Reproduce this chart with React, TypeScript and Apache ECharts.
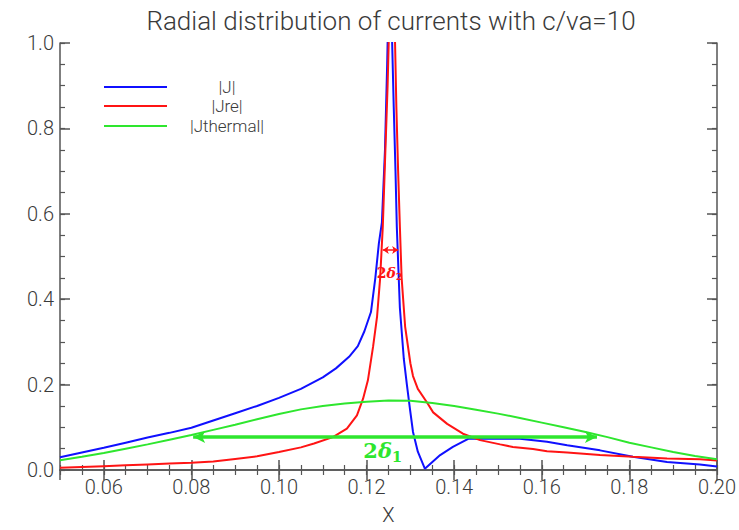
import React, { useEffect, useRef } from "react";
import * as echarts from "echarts";

// ---- data ----
const titleText = "Radial distribution of currents with c/va=10";
const seriesNames = ["|J|", "|Jre|", "|Jthermal|"];

const jX = [0.05, 0.055, 0.06, 0.065, 0.07, 0.075, 0.08, 0.085, 0.09, 0.095, 0.1, 0.105, 0.11, 0.113, 0.116, 0.118, 0.1195, 0.121, 0.122, 0.1228, 0.1235, 0.1242, 0.1247, 0.1251, 0.1256, 0.1262, 0.1266, 0.1269, 0.1276, 0.1285, 0.1292, 0.1299, 0.1306, 0.1317, 0.1333, 0.1368, 0.1397, 0.1432, 0.148, 0.155, 0.1612, 0.1658, 0.1733, 0.1808, 0.1886, 0.1961, 0.2];
const jY = [0.03, 0.041, 0.052, 0.064, 0.076, 0.087, 0.099, 0.116, 0.133, 0.15, 0.169, 0.19, 0.217, 0.238, 0.265, 0.29, 0.325, 0.37, 0.45, 0.53, 0.58, 0.75, 0.95, 1.15, 1.1, 0.85, 0.7, 0.57, 0.38, 0.26, 0.2, 0.143, 0.089, 0.043, 0.003, 0.035, 0.054, 0.073, 0.074, 0.073, 0.066, 0.058, 0.046, 0.031, 0.019, 0.013, 0.008];

const jreX = [0.05, 0.055, 0.06, 0.065, 0.07, 0.075, 0.08, 0.085, 0.09, 0.095, 0.1, 0.105, 0.108, 0.1123, 0.1155, 0.1178, 0.1192, 0.1203, 0.1215, 0.1224, 0.1231, 0.1237, 0.1242, 0.1248, 0.1253, 0.1258, 0.1263, 0.1268, 0.1272, 0.1276, 0.128, 0.1288, 0.13, 0.1306, 0.1317, 0.1338, 0.1352, 0.1384, 0.142, 0.1459, 0.1505, 0.1534, 0.158, 0.1612, 0.1658, 0.1733, 0.1808, 0.1886, 0.1961, 0.2];
const jreY = [0.005, 0.007, 0.009, 0.011, 0.013, 0.015, 0.017, 0.02, 0.026, 0.032, 0.042, 0.053, 0.062, 0.077, 0.097, 0.128, 0.167, 0.21, 0.29, 0.36, 0.45, 0.57, 0.72, 0.9, 1.1, 1.25, 1.1, 0.85, 0.7, 0.57, 0.45, 0.336, 0.25, 0.22, 0.19, 0.158, 0.135, 0.108, 0.085, 0.07, 0.06, 0.054, 0.049, 0.044, 0.041, 0.035, 0.031, 0.027, 0.025, 0.022];

const jthX = [0.05, 0.055, 0.06, 0.065, 0.07, 0.075, 0.08, 0.085, 0.09, 0.095, 0.1, 0.105, 0.11, 0.115, 0.12, 0.125, 0.13, 0.135, 0.14, 0.145, 0.15, 0.155, 0.16, 0.165, 0.17, 0.175, 0.18, 0.185, 0.19, 0.195, 0.2];
const jthY = [0.023, 0.031, 0.04, 0.05, 0.06, 0.071, 0.082, 0.094, 0.106, 0.119, 0.131, 0.142, 0.15, 0.156, 0.16, 0.163, 0.162, 0.157, 0.15, 0.141, 0.132, 0.122, 0.111, 0.1, 0.089, 0.077, 0.064, 0.053, 0.042, 0.033, 0.025];

// annotation values (data coordinates)
const delta1Arrow = { x1: 0.0804, x2: 0.1726, y: 0.077 };
const delta1Label = { x: 0.1237, y: 0.045 };
const delta2Arrow = { x1: 0.1237, x2: 0.1272, y: 0.515 };
const delta2Label = { x: 0.1253, y: 0.462 };

const xMin = 0.05, xMax = 0.2;
const yMin = 0, yMax = 1.0;

const BLUE = "#1010ff";
const RED = "#ff1414";
const GREEN = "#2ee62e";
const AXIS = "#555";
const TEXT = "#3a3a3a";
const FONT = "Roboto";

const zip = (xs: number[], ys: number[]) => xs.map((x, i) => [x, ys[i]]);

const deltaRich = (color: string, big: number, small: number, lh: number) => ({
  n: { color, fontSize: big, fontWeight: "bold", fontFamily: "DejaVu Serif", lineHeight: lh, verticalAlign: "middle" },
  d: { color, fontSize: big, fontWeight: "bold", fontStyle: "italic", fontFamily: "DejaVu Serif", lineHeight: lh, verticalAlign: "middle" },
  s: { color, fontSize: small, fontWeight: "bold", fontFamily: "DejaVu Serif", lineHeight: small, verticalAlign: "bottom" },
});

export default function App() {
  const ref = useRef<HTMLDivElement>(null);
  useEffect(() => {
    document.body.style.margin = "0";
    const chart = echarts.init(ref.current!, null, { renderer: "svg" });
    const axLine = { show: true, lineStyle: { color: AXIS, width: 1.5 } };
    const labelStyle = { color: TEXT, fontSize: 20, fontFamily: FONT, fontWeight: 300 };
    const majorX = (pos: string, labels: boolean) => ({
      type: "value", position: pos, min: xMin, max: xMax, splitNumber: 7,
      axisLine: axLine,
      axisTick: { show: true, inside: true, length: 10, lineStyle: { color: AXIS, width: 1.5 } },
      axisLabel: labels ? {
        show: true, margin: 7, ...labelStyle,
        showMinLabel: false,
        formatter: (v: number) => Math.abs(v / 0.02 - Math.round(v / 0.02)) < 1e-6 ? v.toFixed(2) : "",
      } : { show: false },
      splitLine: { show: false },
      ...(labels ? { name: "X", nameLocation: "middle", nameGap: 35, nameTextStyle: labelStyle } : {}),
    });
    const minorX = (pos: string) => ({
      type: "value", position: pos, min: xMin, max: xMax, interval: 0.005,
      axisLine: { show: false },
      axisTick: { show: true, inside: true, length: 5, lineStyle: { color: AXIS, width: 1.2 } },
      axisLabel: { show: false }, splitLine: { show: false },
    });
    const majorY = (pos: string, labels: boolean) => ({
      type: "value", position: pos, min: yMin, max: yMax, interval: 0.2,
      axisLine: axLine,
      axisTick: { show: true, inside: true, length: 10, lineStyle: { color: AXIS, width: 1.5 } },
      axisLabel: labels ? { show: true, margin: 6, ...labelStyle, formatter: (v: number) => v.toFixed(1) } : { show: false },
      splitLine: { show: false },
    });
    const minorY = (pos: string) => ({
      type: "value", position: pos, min: yMin, max: yMax, interval: 0.05,
      axisLine: { show: false },
      axisTick: { show: true, inside: true, length: 5, lineStyle: { color: AXIS, width: 1.2 } },
      axisLabel: { show: false }, splitLine: { show: false },
    });

    const legendY = [87, 106, 126];
    const colors = [BLUE, RED, GREEN];
    const legendGraphics: any[] = [];
    seriesNames.forEach((n, i) => {
      legendGraphics.push({ type: "line", shape: { x1: 104, y1: legendY[i], x2: 167, y2: legendY[i] }, style: { stroke: colors[i], lineWidth: 2 } });
      legendGraphics.push({ type: "text", x: 227, y: legendY[i], style: { text: n, fill: TEXT, font: `300 17px ${FONT}`, lineHeight: 17, textAlign: "center", textVerticalAlign: "middle" } });
    });

    chart.setOption({
      animation: false,
      backgroundColor: "#fff",
      title: {
        text: titleText, left: 386, top: 3, textAlign: "center",
        textStyle: { color: TEXT, fontSize: 26, fontWeight: 300, fontFamily: FONT },
      },
      grid: { left: 60, right: 21, top: 43, bottom: 55, containLabel: false },
      xAxis: [majorX("bottom", true), minorX("bottom"), majorX("top", false), minorX("top")],
      yAxis: [majorY("left", true), minorY("left"), majorY("right", false), minorY("right")],
      graphic: legendGraphics,
      series: [
        {
          name: seriesNames[0], type: "line", data: zip(jX, jY), showSymbol: false, clip: true,
          lineStyle: { color: BLUE, width: 2 }, itemStyle: { color: BLUE },
        },
        {
          name: seriesNames[1], type: "line", data: zip(jreX, jreY), showSymbol: false, clip: true,
          lineStyle: { color: RED, width: 2 }, itemStyle: { color: RED },
          markLine: {
            silent: true, symbol: ["arrow", "arrow"], symbolSize: 6,
            lineStyle: { color: RED, width: 1.5, type: "solid" }, label: { show: false },
            data: [[{ coord: [delta2Arrow.x1, delta2Arrow.y] }, { coord: [delta2Arrow.x2, delta2Arrow.y] }]],
          },
          markPoint: {
            silent: true, symbol: "circle", symbolSize: 0,
            data: [{ coord: [delta2Label.x, delta2Label.y], label: { show: true, position: "inside", formatter: "{n|2}{d|δ}{s|2}", rich: deltaRich(RED, 14, 10, 17) } }],
          },
        },
        {
          name: seriesNames[2], type: "line", data: zip(jthX, jthY), showSymbol: false, clip: true,
          lineStyle: { color: GREEN, width: 2 }, itemStyle: { color: GREEN },
          markLine: {
            silent: true, symbol: ["arrow", "arrow"], symbolSize: [9, 12],
            lineStyle: { color: GREEN, width: 3.5, type: "solid" }, label: { show: false },
            data: [[{ coord: [delta1Arrow.x1, delta1Arrow.y] }, { coord: [delta1Arrow.x2, delta1Arrow.y] }]],
          },
          markPoint: {
            silent: true, symbol: "circle", symbolSize: 0,
            data: [{ coord: [delta1Label.x, delta1Label.y], label: { show: true, position: "inside", formatter: "{n|2}{d|δ}{s|1}", rich: deltaRich(GREEN, 21, 15, 28) } }],
          },
        },
      ],
    });
    return () => chart.dispose();
  }, []);
  return <div ref={ref} style={{ position: "fixed", left: 0, top: 0, width: 739, height: 530 }} />;
}
